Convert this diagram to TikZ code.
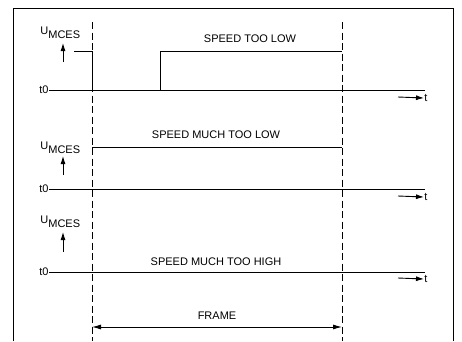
\documentclass[tikz,border=0pt]{standalone}
\usepackage{fontspec}
\setmainfont{Liberation Sans}
\usetikzlibrary{arrows.meta}

\begin{document}
\begin{tikzpicture}[x=1pt,y=-1pt,
                    line width=0.9pt,
                    lbl/.style={font=\fontsize{11}{13}\selectfont,inner sep=0pt},
                    frame line/.style={dash pattern=on 7pt off 3.5pt},
                    tip/.style={-{Latex[length=8pt,width=5pt]}},
                    twotip/.style={{Latex[length=9pt,width=5pt]}-{Latex[length=9pt,width=5pt]}}
                   ]
   \useasboundingbox (0,0) rectangle (462,341);
   \draw (13,341) -- (13,8) -- (453,8) -- (453,341);

   % frame limits
   \coordinate (fl1) at (92,22);
   \coordinate (fl2) at (92,341);
   \coordinate (fr1) at (342,22);
   \coordinate (fr2) at (342,341);
   \draw[frame line] (fl1) -- (fl2);
   \draw[frame line] (fr1) -- (fr2);

   % speed too low
   \node[lbl,anchor=base west] (ua) at (40,34) {U\raisebox{-4.5pt}{MCES}};
   \coordinate (ua1) at (63,62);
   \coordinate (ua2) at (63,43);
   \node[lbl,anchor=east] (ta) at (49,90) {t0};
   \coordinate (ta1) at (425,90);
   \coordinate (ha1) at (74,51);
   \coordinate (ha2) at (92,51);
   \coordinate (ha3) at (92,90);
   \coordinate (ra1) at (160,90);
   \coordinate (ra2) at (160,51);
   \coordinate (ra3) at (342,51);
   \node[lbl] (sa) at (250,39) {SPEED TOO LOW};
   \coordinate (xa) at (398,97);
   \node[lbl,anchor=west] (xta) at (424,98) {t};

   \draw[tip] (ua1) -- (ua2);
   \draw (ta.east) -- (ta1);
   \draw (ha1) -- (ha2) -- (ha3);
   \draw (ra1) -- (ra2) -- (ra3);
   \draw[tip] (xa) -- (xta.west);

   % speed much too low
   \node[lbl,anchor=base west] (ub) at (40,149) {U\raisebox{-4.5pt}{MCES}};
   \coordinate (ub1) at (63,175);
   \coordinate (ub2) at (63,156);
   \node[lbl,anchor=east] (tb) at (49,189) {t0};
   \coordinate (tb1) at (425,189);
   \coordinate (hb1) at (92,147);
   \coordinate (hb2) at (342,147);
   \node[lbl] (sb) at (216,135) {SPEED MUCH TOO LOW};
   \coordinate (xb) at (398,196);
   \node[lbl,anchor=west] (xtb) at (424,197) {t};

   \draw[tip] (ub1) -- (ub2);
   \draw (tb.east) -- (tb1);
   \draw (hb1) -- (hb2);
   \draw[tip] (xb) -- (xtb.west);

   % speed much too high
   \node[lbl,anchor=base west] (uc) at (40,223) {U\raisebox{-4.5pt}{MCES}};
   \coordinate (uc1) at (63,252);
   \coordinate (uc2) at (63,232);
   \node[lbl,anchor=east] (tc) at (49,272) {t0};
   \coordinate (tc1) at (425,272);
   \node[lbl] (sc) at (216,262) {SPEED MUCH TOO HIGH};
   \coordinate (xc) at (398,278);
   \node[lbl,anchor=west] (xtc) at (424,279) {t};

   \draw[tip] (uc1) -- (uc2);
   \draw (tc.east) -- (tc1);
   \draw[tip] (xc) -- (xtc.west);

   % frame
   \coordinate (fa) at (92,327);
   \coordinate (fb) at (342,327);
   \node[lbl] (fm) at (217,316) {FRAME};
   \draw[twotip] (fa) -- (fb);
\end{tikzpicture}
\end{document}
